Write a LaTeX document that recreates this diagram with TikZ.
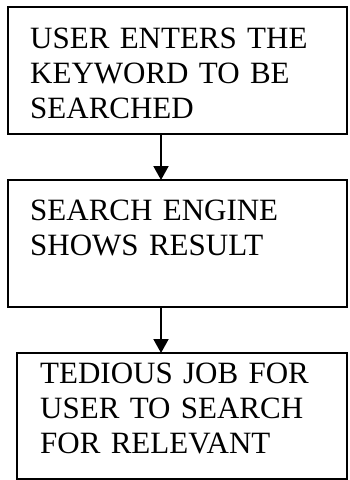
\documentclass[tikz,border=0pt]{standalone}
\usepackage{fontspec}
\setmainfont{Liberation Serif}
\usetikzlibrary{arrows.meta,calc}
\tikzset{
  box/.style={draw=black, line width=2pt, rectangle, inner sep=0pt, outer sep=0pt},
  boxtext/.style={anchor=base west, inner sep=0pt, text width=320pt, align=left,
    font=\fontsize{31}{35}\selectfont},
  arr/.style={line width=2pt, -{Triangle[width=15pt,length=14pt]}}
}
\begin{document}
\begin{tikzpicture}[x=1pt,y=-1pt]
\useasboundingbox (0,0) rectangle (349,480);
\node[box, minimum width=339pt, minimum height=127pt] (b1) at (177.5,70.5) {};
\node[box, minimum width=339pt, minimum height=127pt] (b2) at (177.5,243.5) {};
\node[box, minimum width=330pt, minimum height=126pt] (b3) at (182,416) {};
\node[boxtext] (t1) at ($(b1.north west)+(22,41)$) {USER ENTERS THE\\KEYWORD TO BE\\SEARCHED};
\node[boxtext] (t2) at ($(b2.north west)+(22,40)$) {SEARCH ENGINE\\SHOWS RESULT};
\node[boxtext] (t3) at ($(b3.north west)+(23,30)$) {TEDIOUS JOB FOR\\USER TO SEARCH\\FOR RELEVANT};
\coordinate (ax) at (161,0);
\draw[arr] (b1.south -| ax) -- (b2.north -| ax);
\draw[arr] (b2.south -| ax) -- (b3.north -| ax);
\end{tikzpicture}
\end{document}
